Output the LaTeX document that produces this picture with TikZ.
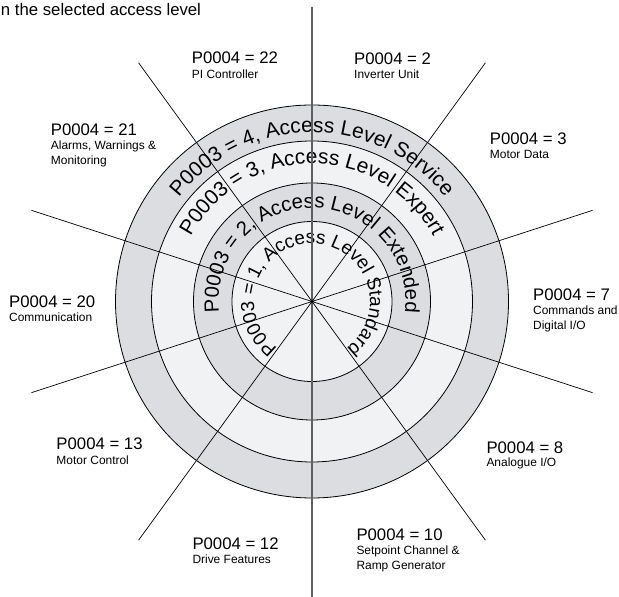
\documentclass[tikz,border=0pt]{standalone}
\usepackage{fontspec}
\setmainfont{Liberation Sans}
\usetikzlibrary{decorations.text,calc}
\definecolor{bandlight}{RGB}{241,242,244}
\definecolor{banddark}{RGB}{220,221,224}
\definecolor{vline}{RGB}{95,95,95}
\tikzset{
 title/.style={anchor=base west, inner sep=0pt, font=\fontsize{16.8}{18}\selectfont},
 sub/.style={anchor=base west, inner sep=0pt, font=\fontsize{12}{14}\selectfont},
 ringline/.style={draw=black, line width=0.8bp},
 spoke/.style={draw=black, line width=0.7bp},
 axisline/.style={draw=vline, line width=1.3bp},
}
\begin{document}
\begin{tikzpicture}[x=1bp,y=1bp]
\useasboundingbox (0,0) rectangle (619,597);
\coordinate (c) at (312,295.5);
% bands
\fill[banddark] (c) circle[radius=196.5];
\fill[bandlight] (c) circle[radius=160.5];
\fill[banddark] (c) circle[radius=118.5];
\fill[bandlight] (c) circle[radius=80];
\foreach \r in {80,118.5,160.5,196.5} \draw[ringline] (c) circle[radius=\r];
% ring texts
\path[decorate, decoration={text along path, text align={center},
  text={|\fontsize{21}{21}\selectfont|P0003 = 4, Access Level Service}}]
  ($(c)+(170:169)$) arc[start angle=170, end angle=10, radius=169];
\path[decorate, decoration={text along path, text align={center},
  text={|\fontsize{21}{21}\selectfont|P0003 = 3, Access Level Expert}}]
  ($(c)+(200:137.5)$) arc[start angle=200, end angle=-20, radius=137.5];
\path[decorate, decoration={text along path, text align={center},
  text={|\fontsize{20.4}{20.4}\selectfont|P0003 = 2, Access Level Extended}}]
  ($(c)+(260:93.5)$) arc[start angle=260, end angle=-80, radius=93.5];
\path[decorate, decoration={text along path, text align={center},
  text={|\fontsize{19}{19}\selectfont|P0003 = 1, Access Level Standard}}]
  ($(c)+(262:58)$) arc[start angle=262, end angle=-82, radius=58];
% spokes
\foreach \a [count=\i] in {54,18,-18,-54,-126,-162,162,126} {
  \coordinate (sp\i) at ($(c)+(\a:295)$);
  \draw[spoke] (c) -- (sp\i);
}
\coordinate (vt) at (312,590);
\coordinate (vb) at (312,0);
\draw[axisline] (vt) -- (vb);
\fill[black] (c) circle[radius=1.8];
% header
\node[title, anchor=base east] (hdr) at (201.2,581.3) {n the selected access level};
% labels
\node[title] (ta22) at (191.7,533) {P0004 = 22};
\node[sub] (tb22) at (191.7,518) {PI Controller};
\node[title] (ta2) at (354,532.7) {P0004 = 2};
\node[sub] (tb2) at (354,518.7) {Inverter Unit};
\node[title] (ta21) at (50.7,461.3) {P0004 = 21};
\node[sub] (tb21) at (50.7,447.7) {Alarms, Warnings \&};
\node[sub] (tc21) at (50.7,432.7) {Monitoring};
\node[title] (ta3) at (489.7,452.7) {P0004 = 3};
\node[sub] (tb3) at (489.7,438) {Motor Data};
\node[title] (ta20) at (9,289.3) {P0004 = 20};
\node[sub] (tb20) at (9,275.3) {Communication};
\node[title] (ta7) at (533,296) {P0004 = 7};
\node[sub] (tb7) at (533,282) {Commands and};
\node[sub] (tc7) at (533,267) {Digital I/O};
\node[title] (ta8) at (486.3,143.7) {P0004 = 8};
\node[sub] (tb8) at (486.3,130.3) {Analogue I/O};
\node[title] (ta13) at (56.3,147) {P0004 = 13};
\node[sub] (tb13) at (56.3,132.7) {Motor Control};
\node[title] (ta12) at (192.3,47) {P0004 = 12};
\node[sub] (tb12) at (192.3,33) {Drive Features};
\node[title] (ta10) at (356.3,56) {P0004 = 10};
\node[sub] (tb10) at (356.3,42) {Setpoint Channel \&};
\node[sub] (tc10) at (356.3,27.7) {Ramp Generator};
\end{tikzpicture}
\end{document}
